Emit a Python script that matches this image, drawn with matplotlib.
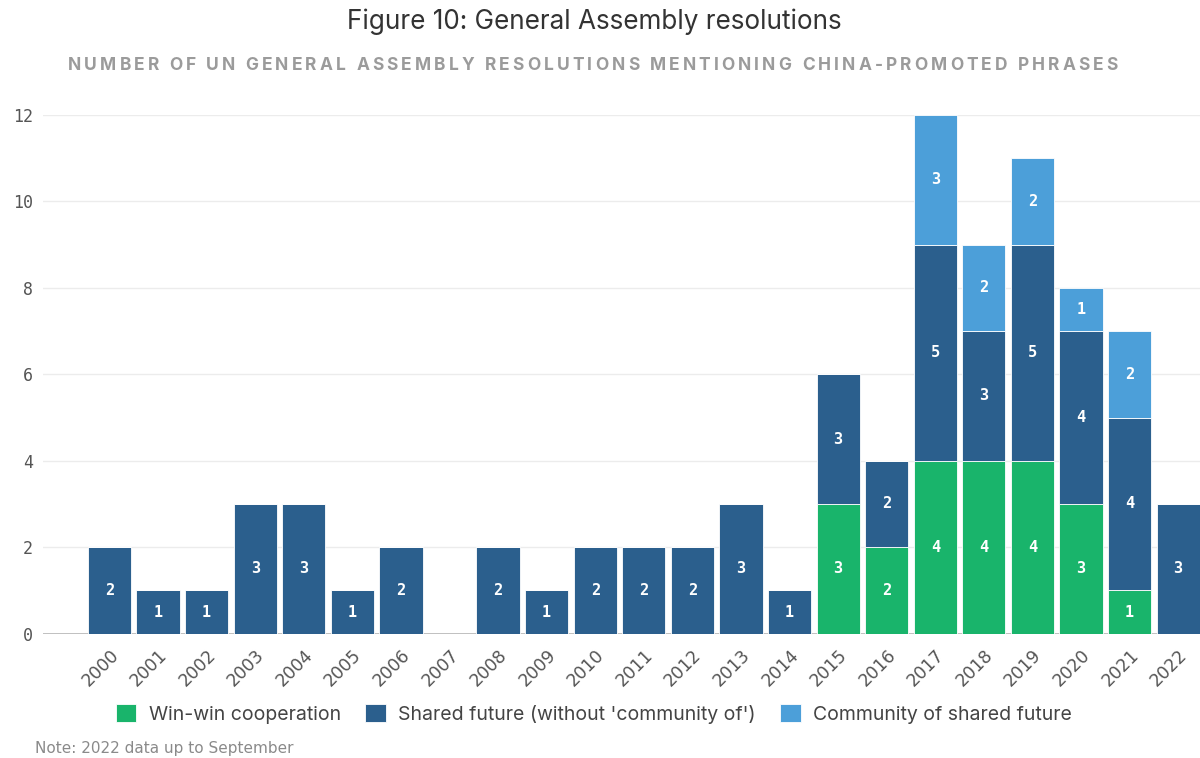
import matplotlib.pyplot as plt
import numpy as np

years = [str(y) for y in range(2000, 2023)]
win_win = [0, 0, 0, 0, 0, 0, 0, 0, 0, 0, 0, 0, 0, 0, 0, 3, 2, 4, 4, 4, 3, 1, 0]
shared = [2, 1, 1, 3, 3, 1, 2, 0, 2, 1, 2, 2, 2, 3, 1, 3, 2, 5, 3, 5, 4, 4, 3]
community = [0, 0, 0, 0, 0, 0, 0, 0, 0, 0, 0, 0, 0, 0, 0, 0, 0, 3, 2, 2, 1, 2, 0]

GREEN = "#19b46b"
DARK = "#2b5f8d"
LIGHT = "#4c9fd9"

fig = plt.figure(figsize=(12, 7.58), dpi=100)
ax = fig.add_axes([0.0358, 0.164, 0.9642, 0.6845])


def tracked_text(s, cx, cy, target_w, **kw):
    # matplotlib has no letter spacing, so place chars one by one
    r = fig.canvas.get_renderer()

    def wpx(t):
        tt = fig.text(0, 0, t, **kw)
        w = tt.get_window_extent(r).width
        tt.remove()
        return w

    full = wpx(s)
    track = (target_w - full) / (len(s) - 1)
    left = cx - target_w / 2
    for i, ch in enumerate(s):
        if ch == " ":
            continue
        off = wpx(s[:i + 1]) - wpx(ch)
        fig.text((left + off + track * i) / fig.bbox.width, cy, ch, ha="left", va="center", **kw)


bottom = np.zeros(len(years))
x = np.arange(len(years))
series = [(win_win, GREEN, "Win-win cooperation"),
          (shared, DARK, "Shared future (without 'community of')"),
          (community, LIGHT, "Community of shared future")]
for vals, col, lab in series:
    vals = np.array(vals)
    ax.bar(x, vals, 0.89, bottom=bottom, color=col, edgecolor="white", linewidth=0.6, label=lab, zorder=3)
    for xi, v, b in zip(x, vals, bottom):
        if v > 0:
            ax.text(xi, b + v / 2, str(v), ha="center", va="center", color="white",
                    fontsize=11, fontweight="bold", family="DejaVu Sans Mono", zorder=4)
    bottom += vals

ax.set_xlim(-1.37, 22.45)
ax.set_ylim(0, 12)
ax.set_yticks(range(0, 13, 2))
for yv in range(2, 13, 2):
    ax.axhline(yv, color="#ececec", linewidth=1, zorder=1)
ax.axhline(0, color="#b5b5b5", linewidth=1.2, zorder=2)
for s in ax.spines.values():
    s.set_visible(False)
ax.tick_params(axis="y", length=0, pad=7, labelsize=12, labelcolor="#555555")
for lbl in ax.get_yticklabels():
    lbl.set_family("DejaVu Sans Mono")
ax.set_xticks(x)
ax.set_xticklabels(years, rotation=45, ha="right", rotation_mode="anchor",
                   fontsize=12.5, color="#555555", family="DejaVu Sans")
ax.tick_params(axis="x", length=0, pad=9)

fig.text(0.495, 0.971, "Figure 10: General Assembly resolutions", ha="center", va="center",
         fontsize=18.8, color="#333333", family="Inter")
tracked_text("NUMBER OF UN GENERAL ASSEMBLY RESOLUTIONS MENTIONING CHINA-PROMOTED PHRASES",
             593, 0.913, 1050, fontsize=12.5, fontweight="bold", color="#9b9b9b", family="Inter")

leg = fig.legend(loc="center", bbox_to_anchor=(0.495, 0.058), ncol=3, frameon=False,
                 handlelength=1.05, handleheight=1.05, columnspacing=1.25,
                 handletextpad=0.65, prop={"family": "Inter", "size": 14})
for t in leg.get_texts():
    t.set_color("#444444")

fig.text(0.029, 0.013, "Note: 2022 data up to September", ha="left", va="center",
         fontsize=11, color="#8a8a8a", family=["Liberation Sans Narrow", "DejaVu Sans"])

fig.savefig("out.png", dpi=100)
